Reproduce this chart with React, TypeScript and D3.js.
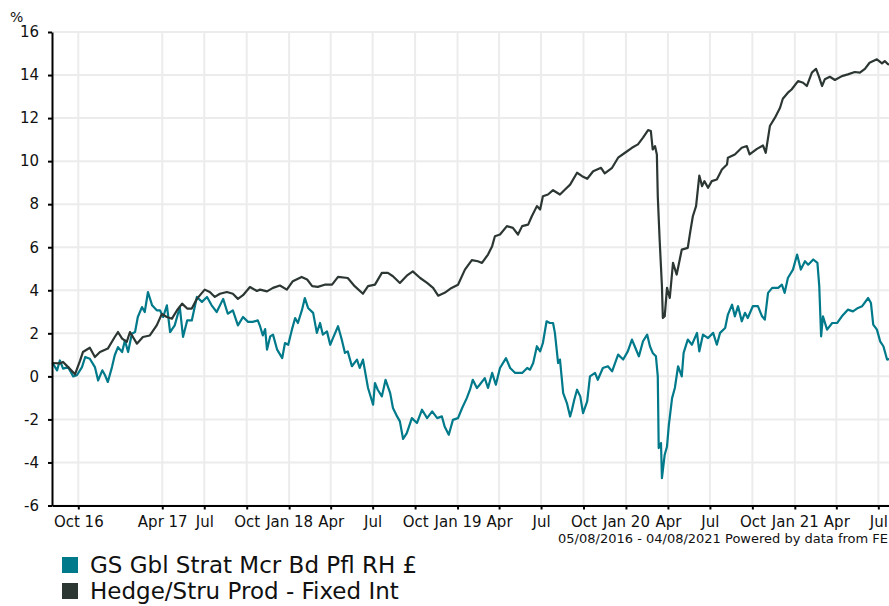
import React, { useEffect, useRef } from "react";
import * as d3 from "d3";

// series names + colours
const seriesNames = ["GS Gbl Strat Mcr Bd Pfl RH £", "Hedge/Stru Prod - Fixed Int"];
const seriesColors = ["#007a8a", "#2c3734"];

const startDate = "2016-08-05";
const endDate = "2021-08-04";

const yTicks = [-6, -4, -2, 0, 2, 4, 6, 8, 10, 12, 14, 16];

const xTickDates = [
  "2016-10-01", "2017-04-01", "2017-07-01", "2017-10-01", "2018-01-01",
  "2018-04-01", "2018-07-01", "2018-10-01", "2019-01-01", "2019-04-01",
  "2019-07-01", "2019-10-01", "2020-01-01", "2020-04-01", "2020-07-01",
  "2020-10-01", "2021-01-01", "2021-04-01", "2021-07-01",
];
const xTickLabels = [
  "Oct 16", "Apr 17", "Jul", "Oct", "Jan 18", "Apr", "Jul", "Oct", "Jan 19", "Apr",
  "Jul", "Oct", "Jan 20", "Apr", "Jul", "Oct", "Jan 21", "Apr", "Jul",
];

const footnote = "05/08/2016 - 04/08/2021 Powered by data from FE";

// GS Gbl Strat Mcr Bd Pfl RH £ (cumulative %)
const gsData: [string, number][] = [
  ["2016-08-05", 0.62], ["2016-08-07", 0.59], ["2016-08-16", 0.28], ["2016-08-22", 0.74],
  ["2016-08-29", 0.36], ["2016-09-09", 0.43], ["2016-09-20", 0.0], ["2016-09-28", 0.05],
  ["2016-10-09", 0.43], ["2016-10-16", 0.9], ["2016-10-26", 0.82], ["2016-11-06", 0.43],
  ["2016-11-13", -0.19], ["2016-11-22", 0.28], ["2016-11-28", 0.05], ["2016-12-04", -0.26],
  ["2016-12-13", 0.43], ["2016-12-19", 0.98], ["2016-12-26", 1.36], ["2017-01-04", 1.13],
  ["2017-01-10", 1.67], ["2017-01-17", 1.13], ["2017-01-25", 1.98], ["2017-02-01", 2.06],
  ["2017-02-07", 2.76], ["2017-02-16", 3.22], ["2017-02-22", 2.99], ["2017-03-01", 3.92],
  ["2017-03-10", 3.3], ["2017-03-20", 3.07], ["2017-03-27", 3.07], ["2017-04-03", 2.76],
  ["2017-04-11", 3.3], ["2017-04-18", 2.06], ["2017-04-28", 2.37], ["2017-05-09", 3.22],
  ["2017-05-16", 1.83], ["2017-05-25", 2.6], ["2017-06-04", 2.6], ["2017-06-15", 3.69],
  ["2017-06-26", 3.46], ["2017-07-07", 3.69], ["2017-07-17", 3.3], ["2017-07-28", 2.99],
  ["2017-08-11", 3.6], ["2017-08-21", 2.91], ["2017-09-01", 3.07], ["2017-09-12", 2.37],
  ["2017-09-23", 2.76], ["2017-10-04", 2.53], ["2017-10-14", 2.53], ["2017-10-25", 2.6],
  ["2017-10-30", 2.33], ["2017-11-05", 1.9], ["2017-11-10", 2.2], ["2017-11-14", 1.24],
  ["2017-11-21", 1.86], ["2017-11-27", 1.94], ["2017-12-06", 1.24], ["2017-12-17", 0.85],
  ["2017-12-23", 1.55], ["2017-12-30", 1.47], ["2018-01-07", 2.17], ["2018-01-14", 2.71],
  ["2018-01-20", 2.48], ["2018-01-29", 3.1], ["2018-02-04", 3.64], ["2018-02-11", 3.18],
  ["2018-02-22", 2.95], ["2018-03-02", 2.02], ["2018-03-09", 2.48], ["2018-03-15", 1.94],
  ["2018-03-24", 2.09], ["2018-03-31", 1.47], ["2018-04-06", 1.78], ["2018-04-17", 2.33],
  ["2018-04-25", 1.71], ["2018-05-02", 1.09], ["2018-05-08", 1.16], ["2018-05-17", 0.47],
  ["2018-05-28", 0.78], ["2018-06-03", 0.39], ["2018-06-10", 0.78], ["2018-06-21", -0.54],
  ["2018-07-02", -1.32], ["2018-07-06", -0.31], ["2018-07-12", -0.62], ["2018-07-21", -0.93],
  ["2018-07-29", -0.16], ["2018-08-08", -0.78], ["2018-08-14", -1.47], ["2018-08-23", -1.86],
  ["2018-08-29", -2.09], ["2018-09-05", -2.91], ["2018-09-13", -2.64], ["2018-09-24", -1.94],
  ["2018-10-05", -2.17], ["2018-10-16", -1.55], ["2018-10-27", -1.94], ["2018-11-07", -1.63],
  ["2018-11-18", -1.94], ["2018-11-28", -1.86], ["2018-12-04", -2.33], ["2018-12-13", -2.71],
  ["2018-12-22", -2.02], ["2019-01-02", -1.94], ["2019-01-11", -1.47], ["2019-01-21", -1.01],
  ["2019-01-28", -0.62], ["2019-02-03", -0.16], ["2019-02-12", -0.54], ["2019-02-18", -0.39],
  ["2019-03-01", -0.08], ["2019-03-08", -0.54], ["2019-03-17", 0.16], ["2019-03-25", -0.39],
  ["2019-04-03", 0.39], ["2019-04-16", 0.85], ["2019-04-25", 0.39], ["2019-05-06", 0.16],
  ["2019-05-21", 0.16], ["2019-06-01", 0.39], ["2019-06-07", 0.31], ["2019-06-14", 0.62],
  ["2019-06-22", 1.4], ["2019-06-29", 1.16], ["2019-07-05", 1.55], ["2019-07-13", 2.56],
  ["2019-07-20", 2.48], ["2019-07-27", 2.48], ["2019-07-31", 2.02], ["2019-08-07", 0.62],
  ["2019-08-11", 0.78], ["2019-08-18", -0.78], ["2019-08-26", -1.24], ["2019-09-02", -1.86],
  ["2019-09-06", -1.55], ["2019-09-11", -1.09], ["2019-09-17", -0.62], ["2019-09-24", -0.93],
  ["2019-09-30", -1.71], ["2019-10-09", -1.16], ["2019-10-15", 0.0], ["2019-10-26", 0.16],
  ["2019-11-01", -0.16], ["2019-11-12", 0.39], ["2019-11-23", 0.47], ["2019-12-02", 0.23],
  ["2019-12-15", 1.01], ["2019-12-26", 0.78], ["2020-01-05", 1.16], ["2020-01-14", 1.71],
  ["2020-01-20", 1.4], ["2020-01-29", 0.93], ["2020-02-07", 1.63], ["2020-02-16", 1.94],
  ["2020-02-22", 1.4], ["2020-02-28", 1.09], ["2020-03-06", 0.93], ["2020-03-10", 0.0],
  ["2020-03-12", -3.33], ["2020-03-17", -3.1], ["2020-03-19", -4.73], ["2020-03-25", -3.64],
  ["2020-03-30", -3.26], ["2020-04-03", -2.25], ["2020-04-10", -1.01], ["2020-04-16", -0.54],
  ["2020-04-23", 0.47], ["2020-05-01", 0.0], ["2020-05-05", 1.09], ["2020-05-14", 1.71],
  ["2020-05-23", 1.47], ["2020-06-03", 2.02], ["2020-06-08", 1.16], ["2020-06-16", 1.94],
  ["2020-06-27", 1.78], ["2020-07-08", 2.02], ["2020-07-16", 1.47], ["2020-07-23", 2.02],
  ["2020-08-03", 2.25], ["2020-08-09", 2.87], ["2020-08-18", 3.33], ["2020-08-24", 2.79],
  ["2020-08-31", 3.26], ["2020-09-08", 2.56], ["2020-09-15", 2.95], ["2020-09-21", 2.71],
  ["2020-10-02", 3.26], ["2020-10-13", 3.26], ["2020-10-22", 2.79], ["2020-10-28", 2.64],
  ["2020-11-04", 3.88], ["2020-11-13", 4.11], ["2020-11-26", 4.11], ["2020-12-04", 4.26],
  ["2020-12-10", 3.88], ["2020-12-17", 4.57], ["2020-12-28", 4.96], ["2021-01-06", 5.66],
  ["2021-01-14", 4.96], ["2021-01-23", 5.35], ["2021-01-30", 5.19], ["2021-02-10", 5.43],
  ["2021-02-19", 5.27], ["2021-02-23", 4.19], ["2021-02-27", 1.86], ["2021-03-03", 2.79],
  ["2021-03-12", 2.17], ["2021-03-23", 2.48], ["2021-04-03", 2.48], ["2021-04-13", 2.79],
  ["2021-04-26", 3.1], ["2021-05-07", 3.02], ["2021-05-18", 3.18], ["2021-05-27", 3.26],
  ["2021-06-09", 3.64], ["2021-06-15", 3.41], ["2021-06-20", 2.4], ["2021-06-28", 2.17],
  ["2021-07-05", 1.63], ["2021-07-12", 1.4], ["2021-07-20", 0.78], ["2021-08-04", 0.85],
];

// Hedge/Stru Prod - Fixed Int (cumulative %)
const hedgeData: [string, number][] = [
  ["2016-08-05", 0.62], ["2016-08-22", 0.6], ["2016-08-29", 0.67], ["2016-09-09", 0.43],
  ["2016-09-24", 0.1], ["2016-10-05", 0.74], ["2016-10-11", 1.13], ["2016-10-26", 1.33],
  ["2016-11-06", 0.9], ["2016-11-17", 1.13], ["2016-12-04", 1.29], ["2016-12-19", 1.83],
  ["2016-12-26", 2.06], ["2017-01-04", 1.75], ["2017-01-14", 1.6], ["2017-01-21", 2.06],
  ["2017-02-05", 1.52], ["2017-02-18", 1.83], ["2017-03-05", 1.9], ["2017-03-20", 2.37],
  ["2017-03-31", 2.9], ["2017-04-11", 2.76], ["2017-04-22", 2.68], ["2017-05-03", 3.07],
  ["2017-05-14", 3.38], ["2017-05-25", 3.15], ["2017-06-04", 3.15], ["2017-06-15", 3.6],
  ["2017-07-02", 4.03], ["2017-07-13", 3.92], ["2017-07-24", 3.69], ["2017-08-04", 3.84],
  ["2017-08-19", 3.92], ["2017-09-01", 3.84], ["2017-09-12", 3.6], ["2017-09-23", 3.77],
  ["2017-10-08", 4.15], ["2017-10-23", 3.97], ["2017-10-30", 4.03], ["2017-11-14", 3.95],
  ["2017-11-27", 4.11], ["2017-12-12", 4.22], ["2017-12-27", 4.03], ["2018-01-09", 4.42],
  ["2018-01-28", 4.62], ["2018-02-09", 4.5], ["2018-02-20", 4.19], ["2018-03-04", 4.16],
  ["2018-03-19", 4.26], ["2018-04-04", 4.26], ["2018-04-17", 4.62], ["2018-05-08", 4.57],
  ["2018-05-23", 4.19], ["2018-06-10", 3.84], ["2018-06-21", 4.19], ["2018-07-06", 4.26],
  ["2018-07-21", 4.81], ["2018-08-03", 4.81], ["2018-08-14", 4.65], ["2018-08-29", 4.34],
  ["2018-09-13", 4.68], ["2018-09-26", 4.88], ["2018-10-12", 4.57], ["2018-10-27", 4.34],
  ["2018-11-09", 4.11], ["2018-11-20", 3.75], ["2018-12-04", 3.88], ["2018-12-19", 4.11],
  ["2019-01-02", 4.26], ["2019-01-17", 4.96], ["2019-02-01", 5.4], ["2019-02-14", 5.35],
  ["2019-02-23", 5.27], ["2019-03-08", 5.66], ["2019-03-17", 6.05], ["2019-03-23", 6.51],
  ["2019-04-03", 6.59], ["2019-04-18", 6.98], ["2019-05-01", 6.9], ["2019-05-12", 6.59],
  ["2019-05-21", 6.98], ["2019-06-03", 7.05], ["2019-06-11", 7.44], ["2019-06-22", 7.91],
  ["2019-06-29", 7.75], ["2019-07-05", 8.37], ["2019-07-16", 8.45], ["2019-07-27", 8.65],
  ["2019-08-11", 8.45], ["2019-08-22", 8.68], ["2019-09-02", 8.91], ["2019-09-17", 9.46],
  ["2019-09-28", 9.3], ["2019-10-09", 9.18], ["2019-10-22", 9.53], ["2019-11-08", 9.69],
  ["2019-11-16", 9.43], ["2019-12-02", 9.69], ["2019-12-15", 10.16], ["2019-12-30", 10.39],
  ["2020-01-14", 10.62], ["2020-01-27", 10.78], ["2020-02-07", 11.09], ["2020-02-18", 11.44],
  ["2020-02-24", 11.4], ["2020-02-28", 10.54], ["2020-03-04", 10.7], ["2020-03-08", 10.31],
  ["2020-03-10", 8.37], ["2020-03-14", 6.36], ["2020-03-19", 4.19], ["2020-03-21", 2.71],
  ["2020-03-25", 2.79], ["2020-03-30", 4.11], ["2020-04-05", 3.64], ["2020-04-12", 5.27],
  ["2020-04-20", 4.73], ["2020-05-01", 5.89], ["2020-05-14", 5.97], ["2020-05-19", 6.67],
  ["2020-05-25", 7.44], ["2020-06-01", 7.91], ["2020-06-08", 9.33], ["2020-06-14", 8.84],
  ["2020-06-19", 9.07], ["2020-06-27", 8.76], ["2020-07-05", 9.07], ["2020-07-16", 9.15],
  ["2020-07-27", 9.61], ["2020-08-07", 9.84], ["2020-08-09", 10.16], ["2020-08-24", 10.31],
  ["2020-09-08", 10.62], ["2020-09-19", 10.7], ["2020-09-25", 10.31], ["2020-10-11", 10.57],
  ["2020-10-24", 10.73], ["2020-10-30", 10.39], ["2020-11-08", 11.63], ["2020-11-19", 12.02],
  ["2020-11-30", 12.48], ["2020-12-06", 12.9], ["2020-12-17", 13.18], ["2020-12-25", 13.33],
  ["2021-01-08", 13.72], ["2021-01-19", 13.64], ["2021-01-27", 13.49], ["2021-02-07", 14.11],
  ["2021-02-16", 14.29], ["2021-02-22", 13.95], ["2021-03-01", 13.49], ["2021-03-07", 13.8],
  ["2021-03-18", 13.92], ["2021-03-29", 13.77], ["2021-04-13", 13.95], ["2021-04-26", 14.03],
  ["2021-05-11", 14.14], ["2021-05-22", 14.11], ["2021-06-02", 14.29], ["2021-06-12", 14.57],
  ["2021-06-28", 14.73], ["2021-07-09", 14.54], ["2021-07-15", 14.65], ["2021-07-22", 14.5],
  ["2021-08-04", 14.45],
];

const App: React.FC = () => {
  const svgRef = useRef<SVGSVGElement | null>(null);

  const width = 889,
    height = 606,
    margin = { top: 32, right: 894, bottom: 505.5, left: 52 };
  const font = "Verdana, 'DejaVu Sans', sans-serif";

  useEffect(() => {
    const svg = d3.select(svgRef.current);
    svg.selectAll("*").remove();

    const parse = d3.timeParse("%Y-%m-%d");

    const x = d3
      .scaleTime()
      .domain([parse(startDate)!, parse(endDate)!])
      .range([margin.left, margin.right]);

    const y = d3.scaleLinear().domain([-6, 16]).range([margin.bottom, margin.top]);

    // grid
    svg
      .append("g")
      .selectAll("line")
      .data(yTicks)
      .join("line")
      .attr("x1", margin.left)
      .attr("x2", margin.right)
      .attr("y1", (d) => y(d))
      .attr("y2", (d) => y(d))
      .attr("stroke", "#ececec")
      .attr("stroke-width", 2);

    svg
      .append("g")
      .selectAll("line")
      .data(xTickDates)
      .join("line")
      .attr("x1", (d) => x(parse(d)!))
      .attr("x2", (d) => x(parse(d)!))
      .attr("y1", margin.top)
      .attr("y2", margin.bottom)
      .attr("stroke", "#ececec")
      .attr("stroke-width", 2);

    // lines
    const line = d3
      .line<[string, number]>()
      .x((d) => x(parse(d[0])!))
      .y((d) => y(d[1]));

    [gsData, hedgeData].forEach((data, i) => {
      svg
        .append("path")
        .datum(data)
        .attr("fill", "none")
        .attr("stroke", seriesColors[i])
        .attr("stroke-width", 2.2)
        .attr("stroke-linejoin", "round")
        .attr("d", line);
    });

    // y axis
    const yAxis = svg
      .append("g")
      .attr("transform", `translate(${margin.left},0)`)
      .call(
        d3
          .axisLeft(y)
          .tickValues(yTicks)
          .tickSize(4)
          .tickSizeOuter(0)
          .tickPadding(9)
          .tickFormat((d) => String(d))
      );
    yAxis.attr("font-size", 15).attr("font-family", font);
    yAxis.select(".domain").attr("stroke", "#000").attr("stroke-width", 2);
    yAxis.selectAll(".tick line").attr("stroke-width", 2);
    yAxis.selectAll(".tick text").attr("fill", "#111");

    // x axis
    const xAxis = svg
      .append("g")
      .attr("transform", `translate(0,${margin.bottom})`)
      .call(
        d3
          .axisBottom(x)
          .tickValues(xTickDates.map((d) => parse(d)!))
          .tickSize(4)
          .tickSizeOuter(0)
          .tickPadding(7)
          .tickFormat((_, i) => xTickLabels[i])
      );
    xAxis.attr("font-size", 15).attr("font-family", font);
    xAxis.select(".domain").attr("stroke", "#000").attr("stroke-width", 2);
    xAxis.selectAll(".tick line").attr("stroke-width", 2);
    xAxis.selectAll(".tick text").attr("fill", "#111");

    // unit label
    svg
      .append("text")
      .attr("x", 10)
      .attr("y", 22)
      .attr("font-size", 14)
      .attr("font-family", font)
      .attr("fill", "#111")
      .text("%");

    // footnote
    svg
      .append("text")
      .attr("x", 888)
      .attr("y", 543)
      .attr("text-anchor", "end")
      .attr("font-size", 13)
      .attr("font-family", font)
      .attr("fill", "#111")
      .text(footnote);

    // legend
    const legend = svg
      .append("g")
      .selectAll("g")
      .data(seriesNames)
      .join("g")
      .attr("transform", (_, i) => `translate(62,${557 + i * 26})`);
    legend
      .append("rect")
      .attr("width", 16)
      .attr("height", 16)
      .attr("fill", (_, i) => seriesColors[i]);
    legend
      .append("text")
      .attr("x", 28)
      .attr("y", 16)
      .attr("font-size", 23)
      .attr("font-family", font)
      .attr("fill", "#111")
      .text((d) => d);
  }, []);

  return (
    <svg
      ref={svgRef}
      width={width}
      height={height}
      style={{ position: "absolute", left: 0, top: 0, display: "block", background: "#fff" }}
    ></svg>
  );
};

export default App;
